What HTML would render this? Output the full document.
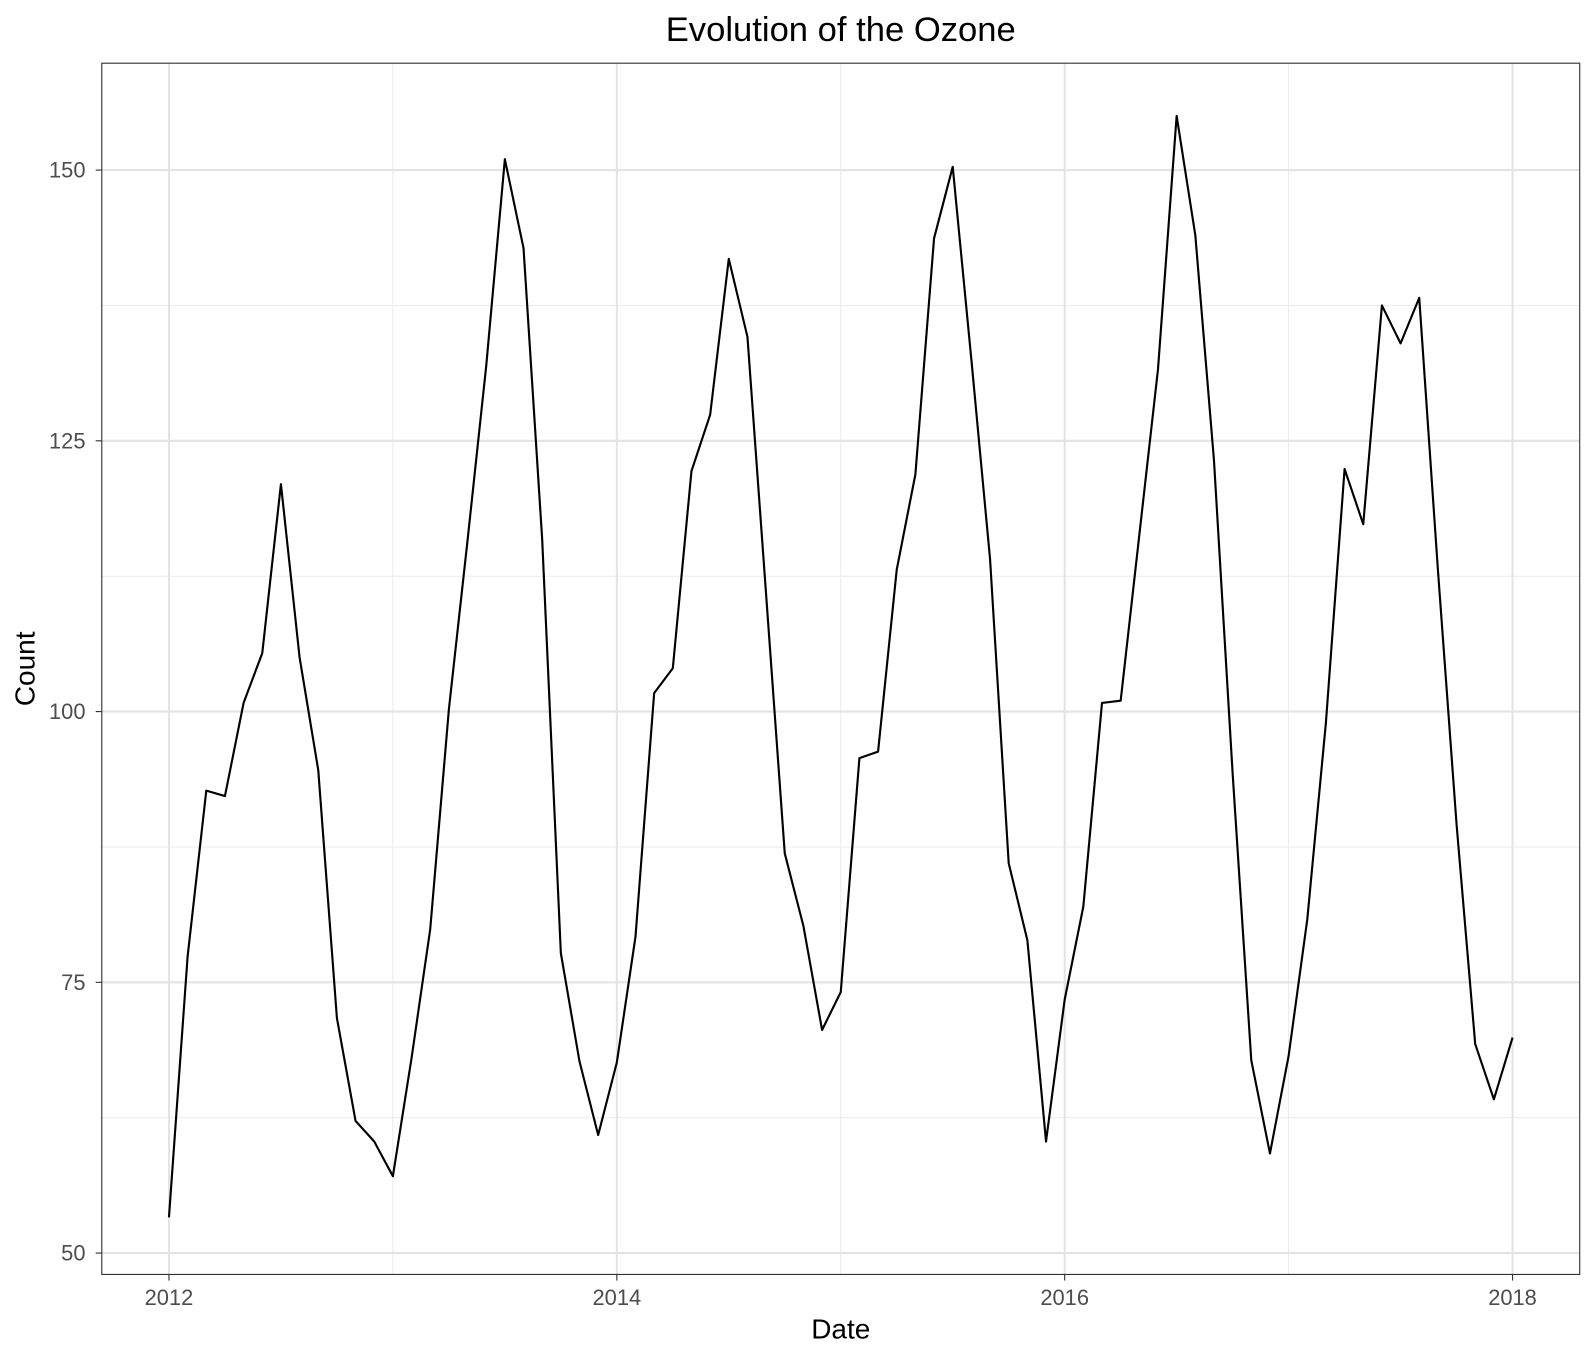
<!DOCTYPE html>
<html><head><meta charset="utf-8"><style>
html,body{margin:0;padding:0;background:#fff;}
svg{display:block;font-family:"Liberation Sans",sans-serif;}
</style></head><body>
<svg id="chart" width="1596" height="1358" viewBox="0 0 1568 1334">
<rect x="0" y="0" width="1568" height="1334" fill="#fff"/>
<text x="826" y="40" font-size="34" text-anchor="middle" fill="#000">Evolution of the Ozone</text>
<g id="grid"></g>
<g id="series"></g>
<rect x="100" y="62" width="1452" height="1190" fill="none" stroke="#333" stroke-width="1.1"/>
<g id="axes"></g>
<text x="826" y="1315" font-size="27.5" text-anchor="middle" fill="#000">Date</text>
<text transform="translate(34,657) rotate(-90)" font-size="27.5" text-anchor="middle" fill="#000">Count</text>
</svg>
<script>
const values = [53.3,77.4,92.7,92.2,100.8,105.4,121.0,105.0,94.6,71.7,62.2,60.3,
57.1,68.0,79.9,100.2,115.8,131.9,151.0,142.8,115.9,77.7,67.7,60.9,
67.6,79.2,101.7,104.0,122.2,127.4,141.8,134.6,110.8,86.9,80.2,70.6,
74.1,95.7,96.3,113.1,121.9,143.7,150.3,132.5,114.1,86.0,78.9,60.3,
73.4,82.0,100.8,101.0,116.3,131.6,155.0,144.0,123.2,94.3,67.8,59.2,
68.2,80.8,99.0,122.4,117.3,137.5,134.0,138.2,113.1,89.6,69.3,64.2,69.9];
const startYear = 2012;
const yTicks = [50,75,100,125,150];
const yMinor = [62.5,87.5,112.5,137.5];
const xTicks = [2012,2014,2016,2018];
const xMinor = [2013,2015,2017];

const NS="http://www.w3.org/2000/svg";
const L=100,R=1552,T=62,B=1252;
function xs(yr){return 166+(yr-2012)*220;}
function ys(v){return 1231-(v-50)*10.64;}
function mk(tag,attrs,parent){const e=document.createElementNS(NS,tag);for(const k in attrs)e.setAttribute(k,attrs[k]);parent.appendChild(e);return e;}
const grid=document.getElementById('grid'),axes=document.getElementById('axes'),series=document.getElementById('series');
yMinor.forEach(v=>{const e=mk('line',{x1:L,x2:R,y1:ys(v),y2:ys(v),stroke:'#ebebeb','stroke-width':1},grid);

});
xMinor.forEach(v=>{const e=mk('line',{x1:xs(v),x2:xs(v),y1:T,y2:B,stroke:'#ebebeb','stroke-width':1},grid);

});
yTicks.forEach(v=>{const e=mk('line',{x1:L,x2:R,y1:ys(v),y2:ys(v),stroke:'#e3e3e3','stroke-width':2},grid);


const t=mk('line',{x1:L-6,x2:L,y1:ys(v),y2:ys(v),stroke:'#333','stroke-width':1.1},axes);


const l=mk('text',{x:L-16,y:ys(v)+7.5,'font-size':21.5,'text-anchor':'end',fill:'#4d4d4d'},axes);l.textContent=v;

});
xTicks.forEach(v=>{const e=mk('line',{x1:xs(v),x2:xs(v),y1:T,y2:B,stroke:'#e3e3e3','stroke-width':2},grid);


const t=mk('line',{x1:xs(v),x2:xs(v),y1:B,y2:B+6,stroke:'#333','stroke-width':1.1},axes);


const l=mk('text',{x:xs(v),y:B+30,'font-size':21.5,'text-anchor':'middle',fill:'#4d4d4d'},axes);l.textContent=v;

});
const pts=values.map((v,i)=>xs(startYear+i/12).toFixed(2)+','+ys(v).toFixed(2)).join(' ');
const p=mk('polyline',{points:pts,fill:'none',stroke:'#000','stroke-width':2.1,'stroke-linejoin':'round'},series);


</script>
</body></html>
